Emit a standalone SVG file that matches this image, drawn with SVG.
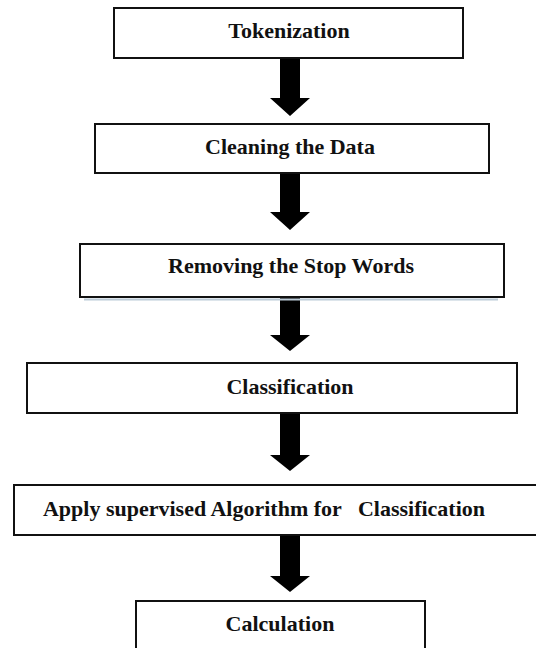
<svg xmlns="http://www.w3.org/2000/svg" width="536" height="648" viewBox="0 0 536 648">
<defs>
<style>
.box{fill:#fff;stroke:#111;stroke-width:2}
.lbl{font-family:"Liberation Serif","Times New Roman",serif;font-weight:bold;font-size:22px;fill:#111;text-anchor:middle}
.arr{fill:#000}
</style>
</defs>
<rect width="536" height="648" fill="#fff"/>
<g id="connectors">
<polygon class="arr" points="280,58 300,58 300,98 310,98 290,116 270,98 280,98"/>
<polygon class="arr" points="280,173 300,173 300,212 310,212 290,230 270,212 280,212"/>
<polygon class="arr" points="280,297 300,297 300,335 310,335 290,351 270,335 280,335"/>
<polygon class="arr" points="280,413 300,413 300,455 310,455 290,471 270,455 280,455"/>
<polygon class="arr" points="280,535 300,535 300,576 310,576 290,592 270,576 280,576"/>
</g>
<g id="n1"><rect class="box" x="114" y="8" width="349" height="50"/><text class="lbl" x="289" y="38">Tokenization</text></g>
<g id="n2"><rect class="box" x="95" y="124" width="394" height="49"/><text class="lbl" x="290" y="154">Cleaning the Data</text></g>
<g id="n3"><line x1="84" y1="299.5" x2="498" y2="299.5" stroke="#bccbd8" stroke-width="2"/><rect class="box" x="80" y="244" width="424" height="53"/><text class="lbl" x="291" y="273">Removing the Stop Words</text></g>
<g id="n4"><rect class="box" x="27" y="363" width="490" height="50"/><text class="lbl" x="290" y="394">Classification</text></g>
<g id="n5"><rect class="box" x="14" y="485" width="530" height="50"/><text class="lbl" x="264" y="516" xml:space="preserve">Apply supervised Algorithm for   Classification</text></g>
<g id="n6"><rect class="box" x="136" y="601" width="289" height="60"/><text class="lbl" x="280" y="631">Calculation</text></g>
</svg>
